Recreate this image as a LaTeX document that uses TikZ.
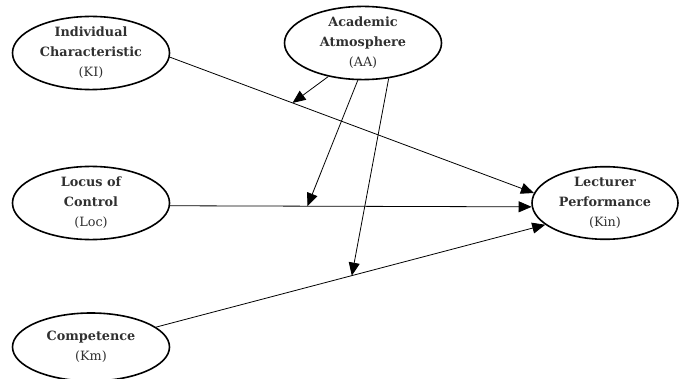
\documentclass[tikz,border=0pt]{standalone}
\usepackage{fontspec}
\setmainfont{DejaVu Serif}
\usetikzlibrary{shapes.geometric,arrows.meta}
\definecolor{txt}{HTML}{303030}
\begin{document}
\begin{tikzpicture}[x=1pt,y=-1pt,
  construct/.style={ellipse,draw=black,line width=1.6pt,minimum width=157pt,minimum height=70pt,inner sep=0pt,
    align=center,text=txt,font=\fontsize{12.8}{20}\selectfont\bfseries},
  path/.style={line width=0.8pt,-{Triangle[length=13pt,width=11pt]}}]
\useasboundingbox (0,0) rectangle (679,379);
\node[construct] (KI) at (91,53) {Individual\\Characteristic\\{\mdseries(KI)}};
\node[construct] (AA) at (363,43) {Academic\\Atmosphere\\{\mdseries(AA)}};
\node[construct] (Loc) at (91,203) {Locus of\\Control\\{\mdseries(Loc)}};
\node[construct,minimum height=68pt] (Km) at (91,347) {Competence\\{\mdseries(Km)}};
\node[construct,minimum width=146pt] (Kin) at (605,203) {Lecturer\\Performance\\{\mdseries(Kin)}};
\draw[path] (KI.-3) -- (Kin.172);
\draw[path] (Loc.-2) -- (Kin.183);
\draw[path] (Km.17) -- (Kin.200);
\path (KI.-3) -- (Kin.172) coordinate[pos=0.337] (p1);
\path (Loc.-2) -- (Kin.183) coordinate[pos=0.38] (p2);
\path (Km.17) -- (Kin.200) coordinate[pos=0.503] (p3);
\draw[path] (AA.224) -- (p1);
\draw[path] (AA.262) -- (p2);
\draw[path] (AA.306) -- (p3);
\end{tikzpicture}
\end{document}
